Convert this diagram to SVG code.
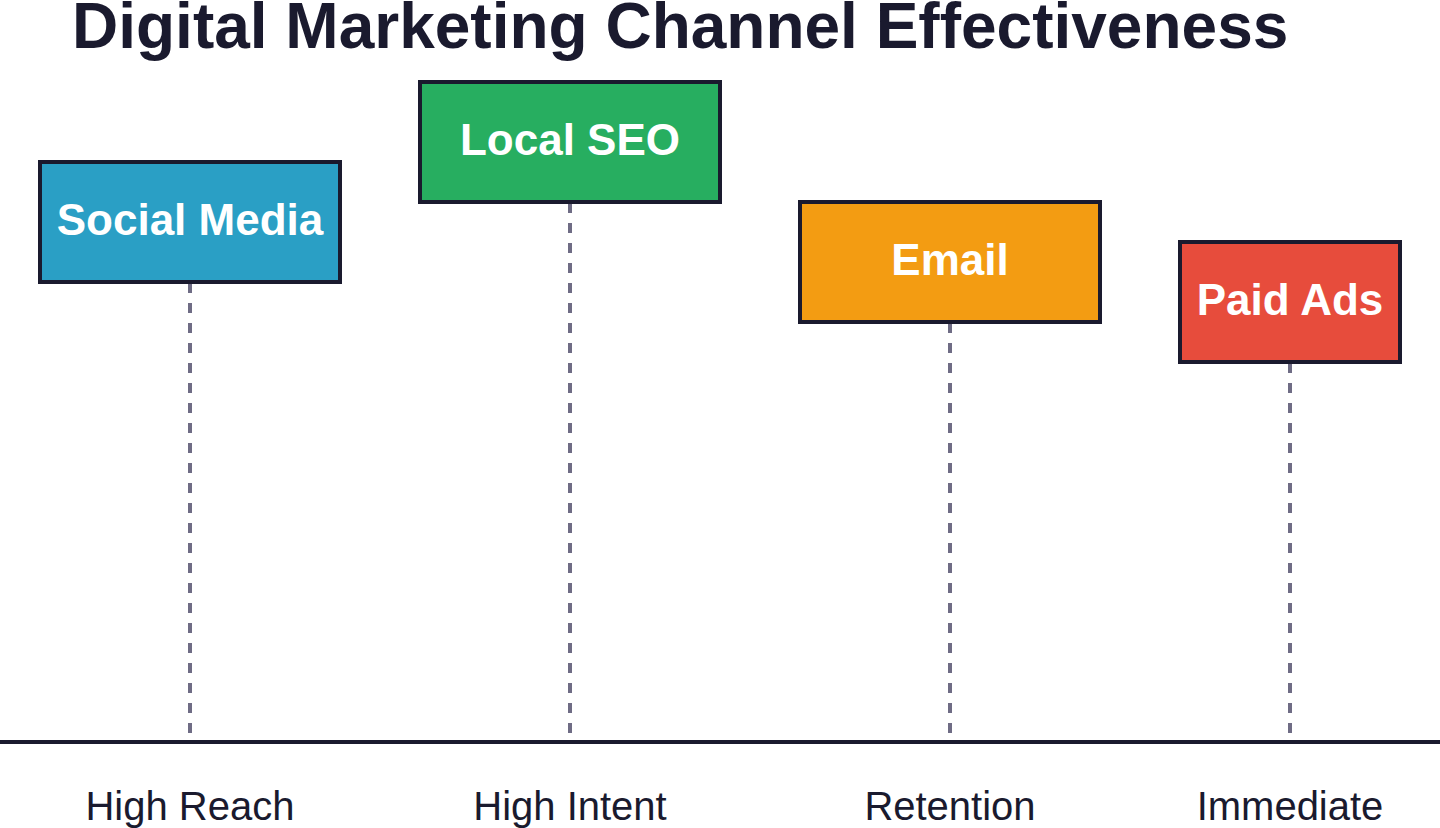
<svg xmlns="http://www.w3.org/2000/svg" width="1440" height="828" viewBox="0 0 1440 828">
<style>
.box{stroke:#1a1a2e;stroke-width:4}
.bt{font-family:"Liberation Sans",Arial,sans-serif;font-weight:bold;font-size:44px;fill:#ffffff;text-anchor:middle}
.lbl{font-family:"Liberation Sans",Arial,sans-serif;font-size:40px;fill:#1a1a2e;text-anchor:middle}
.dash{stroke:#6f6c85;stroke-width:4;stroke-dasharray:10 10;fill:none}
</style>
<rect width="1440" height="828" fill="#ffffff"/>
<text x="72" y="48" font-family="Liberation Sans, Arial, sans-serif" font-weight="bold" font-size="64" fill="#1a1a2e">Digital Marketing Channel Effectiveness</text>
<g id="connectors">
<line class="dash" x1="190" y1="283" x2="190" y2="733"/>
<line class="dash" x1="570" y1="203" x2="570" y2="733"/>
<line class="dash" x1="950" y1="323" x2="950" y2="733"/>
<line class="dash" x1="1290" y1="363" x2="1290" y2="733"/>
</g>
<line x1="0" y1="742" x2="1440" y2="742" stroke="#1a1a2e" stroke-width="4"/>
<g id="social-media">
<rect class="box" x="40" y="162" width="300" height="120" fill="#2a9fc5"/>
<text class="bt" x="190" y="235">Social Media</text>
</g>
<g id="local-seo">
<rect class="box" x="420" y="82" width="300" height="120" fill="#27ae60"/>
<text class="bt" x="570" y="155">Local SEO</text>
</g>
<g id="email">
<rect class="box" x="800" y="202" width="300" height="120" fill="#f39c12"/>
<text class="bt" x="950" y="275">Email</text>
</g>
<g id="paid-ads">
<rect class="box" x="1180" y="242" width="220" height="120" fill="#e74c3c"/>
<text class="bt" x="1290" y="315">Paid Ads</text>
</g>
<g id="labels">
<text class="lbl" x="190" y="820">High Reach</text>
<text class="lbl" x="570" y="820">High Intent</text>
<text class="lbl" x="950" y="820">Retention</text>
<text class="lbl" x="1290" y="820">Immediate</text>
</g>
</svg>
